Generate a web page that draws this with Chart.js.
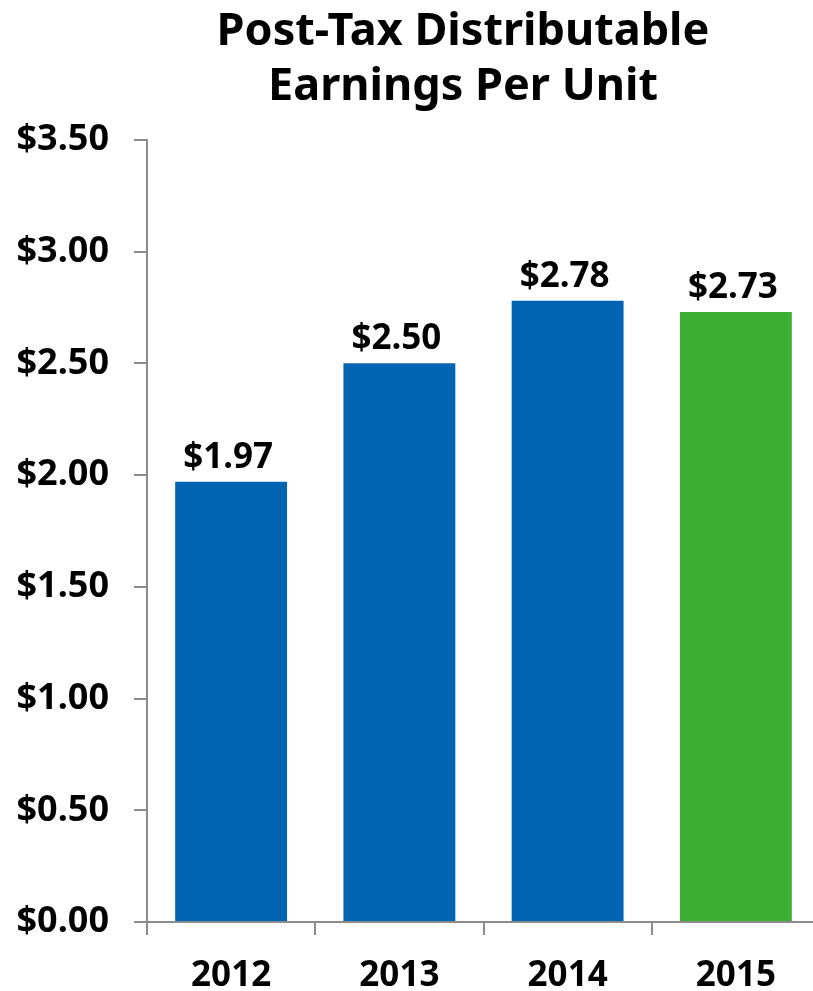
<!DOCTYPE html>
<html>
<head>
<meta charset="utf-8">
<script src="https://cdn.jsdelivr.net/npm/chart.js@4"></script>
<style>
  html, body { margin: 0; padding: 0; background: #fff; overflow: hidden; }
  #wrap { width: 813px; height: 991px; overflow: hidden; position: relative; }
  canvas { position: absolute; left: 0; top: 0; }
</style>
</head>
<body>
<div id="wrap"><canvas id="epuChart" width="926" height="991"></canvas></div>
<script>
const years = ['2012', '2013', '2014', '2015'];
const earnings = [1.97, 2.50, 2.78, 2.73];
const barColors = ['#0064B2', '#0064B2', '#0064B2', '#3DAE31'];
const titleLines = ['Post-Tax Distributable', 'Earnings Per Unit'];

const FONT = '"Noto Sans", "Open Sans", sans-serif';
const axisGray = '#8C8C8C';

// draws "$x.xx" above each bar
const valueLabels = {
  id: 'valueLabels',
  afterDatasetsDraw(chart) {
    const ctx = chart.ctx;
    const meta = chart.getDatasetMeta(0);
    ctx.save();
    ctx.font = 'bold 35px ' + FONT;
    ctx.fillStyle = '#000';
    ctx.textAlign = 'center';
    ctx.textBaseline = 'alphabetic';
    meta.data.forEach((bar, i) => {
      ctx.fillText('$' + earnings[i].toFixed(2), bar.x - 3, bar.y - 14);
    });
    ctx.restore();
  }
};

new Chart(document.getElementById('epuChart').getContext('2d'), {
  type: 'bar',
  data: {
    labels: years,
    datasets: [{
      data: earnings,
      backgroundColor: barColors,
      borderWidth: 0,
      categoryPercentage: 1,
      barPercentage: 0.665
    }]
  },
  options: {
    responsive: false,
    animation: false,
    devicePixelRatio: 1,
    layout: { padding: 0 },
    plugins: {
      legend: { display: false },
      tooltip: { enabled: false },
      title: {
        display: true,
        text: titleLines,
        color: '#000',
        font: { family: FONT, size: 45, weight: 'bold', lineHeight: 1.22 },
        padding: { top: 5, bottom: 25 }
      }
    },
    scales: {
      y: {
        min: 0,
        max: 3.5,
        afterFit(scale) { scale.width = 147; },
        ticks: {
          stepSize: 0.5,
          padding: 25,
          color: '#000',
          font: { family: FONT, size: 36, weight: 'bold' },
          callback: v => '$' + Number(v).toFixed(2)
        },
        grid: { drawOnChartArea: false, drawTicks: true, tickLength: 13, color: axisGray, lineWidth: 2 },
        border: { color: axisGray, width: 2 }
      },
      // empty right-hand spacer so the title centres like the original
      spacer: {
        type: 'linear',
        position: 'right',
        afterFit(scale) { scale.width = 106; },
        ticks: { display: false },
        grid: { display: false },
        border: { display: false }
      },
      x: {
        afterFit(scale) { scale.height = 69; },
        ticks: {
          padding: 20,
          color: '#000',
          font: { family: FONT, size: 35, weight: 'bold' }
        },
        grid: { drawOnChartArea: false, drawTicks: true, tickLength: 13, color: axisGray, lineWidth: 2, offset: true },
        border: { color: axisGray, width: 2 }
      }
    }
  },
  plugins: [valueLabels]
});
</script>
</body>
</html>
